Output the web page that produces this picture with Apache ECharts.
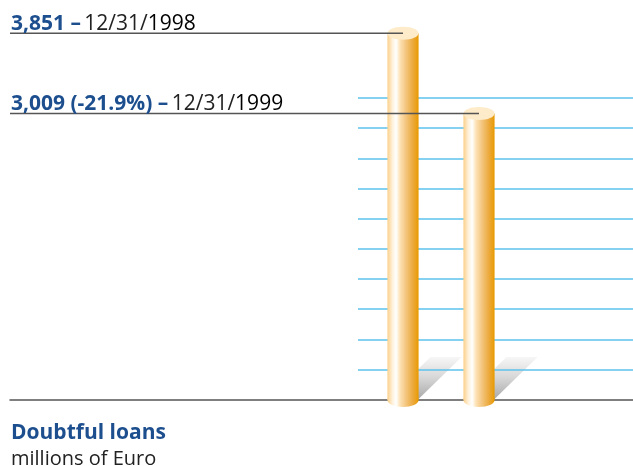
<!DOCTYPE html>
<html>
<head>
<meta charset="utf-8">
<script src="https://cdn.jsdelivr.net/npm/echarts@6/dist/echarts.min.js"></script>
<style>
  html, body { margin: 0; padding: 0; background: #fff; }
  #box { width: 633px; height: 466px; }
</style>
</head>
<body>
<div id="box"></div>
<script>
// data
var categories = ['12/31/1998', '12/31/1999'];
var values = [3851, 3009];
var valueLabels = ['3,851', '3,009 (-21.9%)'];

var blue = '#1d4f8f';
var font = '"Open Sans", "Noto Sans", sans-serif';

var myCharts = echarts.init(document.getElementById('box'));

// bar geometry helper
function barBox(api) {
  var top = api.coord([api.value(0), api.value(1)]);
  var base = api.coord([api.value(0), 0]);
  var bw = api.size([1, 0])[0] * 0.41;
  return { top: top, base: base, bw: bw, x0: top[0] - bw / 2 };
}

// shadow behind each cylinder
function renderShadow(params, api) {
  var b = barBox(api);
  var y = b.base[1] - 1;
  return {
    type: 'polygon',
    shape: {
      points: [[b.x0, y], [b.x0 + b.bw, y], [b.x0 + b.bw + 43, y - 42], [b.x0 + 43, y - 42]]
    },
    style: {
      fill: new echarts.graphic.LinearGradient(0, 0, 0, 1, [
        { offset: 0, color: '#f7f7f7' },
        { offset: 0.5, color: '#d6d6d6' },
        { offset: 1, color: '#aaaaaa' }
      ])
    }
  };
}

// cylinder bar
function renderCylinder(params, api) {
  var b = barBox(api);
  var rx = b.bw / 2;
  var body = new echarts.graphic.LinearGradient(0, 0, 1, 0, [
    { offset: 0, color: '#fbd08a' },
    { offset: 0.16, color: '#fff1da' },
    { offset: 0.28, color: '#ffffff' },
    { offset: 0.4, color: '#fde3b8' },
    { offset: 0.6, color: '#f3c57c' },
    { offset: 0.82, color: '#eca93c' },
    { offset: 1, color: '#e89a00' }
  ]);
  return {
    type: 'group',
    children: [
      {
        type: 'ellipse',
        shape: { cx: b.top[0], cy: b.base[1], rx: rx, ry: 7 },
        style: { fill: body }
      },
      {
        type: 'rect',
        shape: { x: b.x0, y: b.top[1], width: b.bw, height: b.base[1] - b.top[1] },
        style: { fill: body }
      },
      {
        type: 'ellipse',
        shape: { cx: b.top[0], cy: b.top[1], rx: rx, ry: 6.5 },
        style: { fill: '#fdebc9' }
      }
    ]
  };
}

// leader line + label
function renderLeader(params, api) {
  var i = params.dataIndex;
  var top = api.coord([api.value(0), api.value(1)]);
  var cat = categories[i];
  var cut = cat.lastIndexOf('/') + 1;
  return {
    type: 'group',
    children: [
      {
        type: 'line',
        shape: { x1: 10, y1: top[1], x2: top[0], y2: top[1] },
        style: { stroke: '#555', lineWidth: 1.5 }
      },
      {
        type: 'text',
        style: {
          x: 11,
          y: top[1] + 3,
          text: '{v|' + valueLabels[i] + ' –} {d|' + cat.slice(0, cut) + '}{y|' + cat.slice(cut) + '}',
          textAlign: 'left',
          textVerticalAlign: 'bottom',
          rich: {
            v: { fontFamily: font, fontSize: 21, fontWeight: 'bold', fill: blue, lineHeight: 24 },
            d: { fontFamily: font, fontSize: 21, fill: '#222', lineHeight: 24 },
            y: { fontFamily: font, fontSize: 21, fill: '#000', lineHeight: 24 }
          }
        }
      }
    ]
  };
}

var seriesData = values.map(function (v, i) { return [i, v]; });

var option = {
  animation: false,
  title: {
    text: 'Doubtful loans',
    subtext: 'millions of Euro',
    left: 11,
    top: 421,
    padding: 0,
    itemGap: 2,
    textStyle: { fontFamily: font, fontSize: 21, fontWeight: 'bold', color: blue, lineHeight: 24 },
    subtextStyle: { fontFamily: font, fontSize: 20, color: '#222', lineHeight: 24 }
  },
  grid: [
    { left: 365, width: 152, top: 19, bottom: 66 },
    { left: 358, right: 0, top: 98, bottom: 96.5 },
    { left: 10, right: 0, top: 19, bottom: 66 }
  ],
  xAxis: [
    { type: 'category', gridIndex: 0, data: categories, show: false },
    { type: 'value', gridIndex: 1, show: false },
    {
      type: 'value', gridIndex: 2, min: 0, max: 1,
      axisLine: { show: true, lineStyle: { color: '#555', width: 1.5 } },
      axisTick: { show: false }, axisLabel: { show: false }, splitLine: { show: false }
    }
  ],
  yAxis: [
    { type: 'value', gridIndex: 0, min: 0, max: 4000, show: false },
    {
      type: 'value', gridIndex: 1, min: 0, max: 9, interval: 1, z: 3,
      axisLine: { show: false }, axisTick: { show: false }, axisLabel: { show: false },
      splitLine: { show: true, lineStyle: { color: '#5cc2ee', width: 1.5 } }
    },
    { type: 'value', gridIndex: 2, show: false }
  ],
  series: [
    {
      type: 'custom',
      xAxisIndex: 0,
      yAxisIndex: 0,
      z: 1,
      renderItem: renderShadow,
      data: seriesData
    },
    {
      type: 'custom',
      xAxisIndex: 0,
      yAxisIndex: 0,
      z: 5,
      renderItem: renderCylinder,
      data: seriesData
    },
    {
      type: 'custom',
      xAxisIndex: 0,
      yAxisIndex: 0,
      z: 10,
      renderItem: renderLeader,
      data: seriesData
    }
  ]
};

myCharts.setOption(option);
</script>
</body>
</html>
